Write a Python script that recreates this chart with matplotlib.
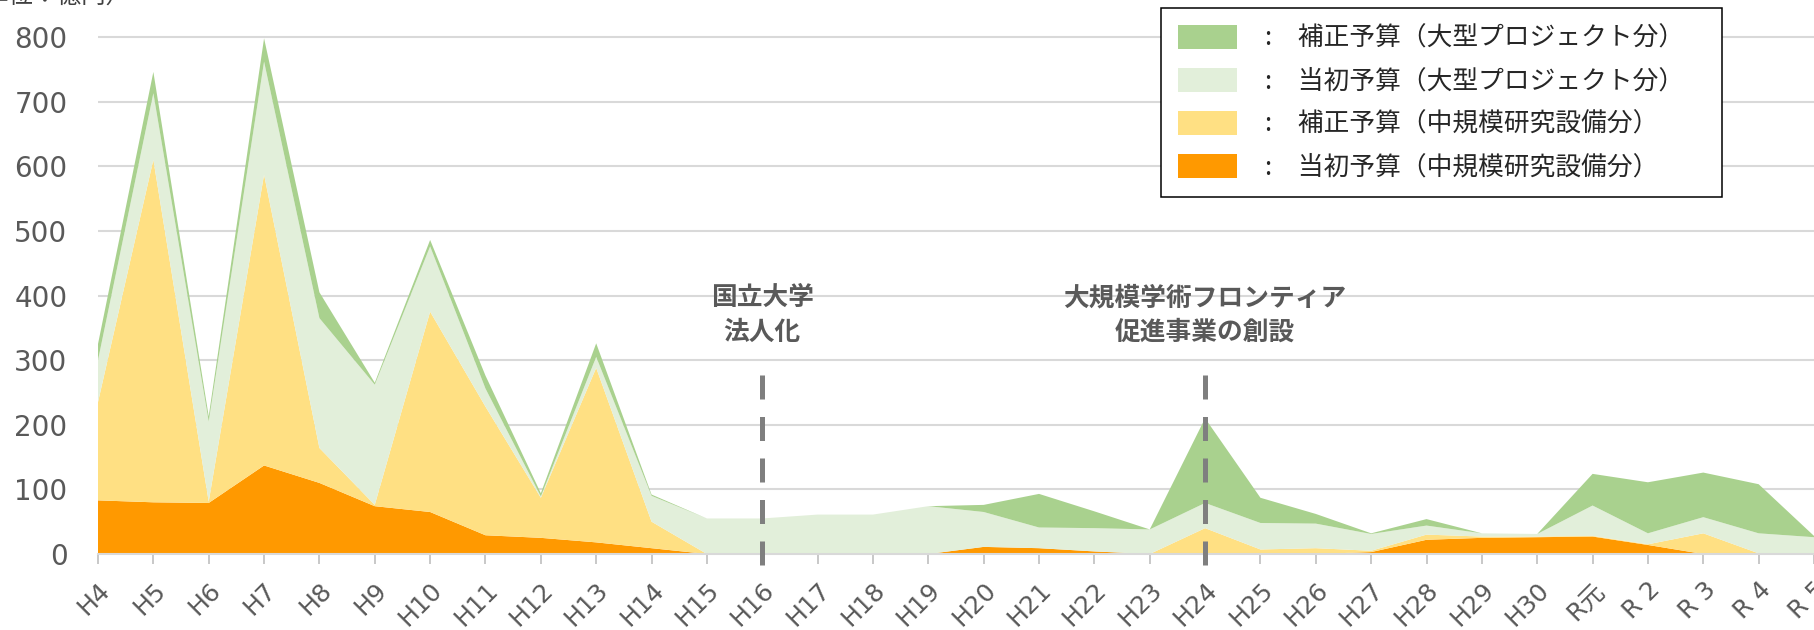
import numpy as np
import matplotlib
matplotlib.use('Agg')
import matplotlib.pyplot as plt
from matplotlib.patches import Patch
from matplotlib.font_manager import FontProperties

plt.rcParams['font.family'] = ['DejaVu Sans', 'Noto Sans CJK JP']

years = ['H4', 'H5', 'H6', 'H7', 'H8', 'H9', 'H10', 'H11', 'H12', 'H13', 'H14',
         'H15', 'H16', 'H17', 'H18', 'H19', 'H20', 'H21', 'H22', 'H23', 'H24',
         'H25', 'H26', 'H27', 'H28', 'H29', 'H30', 'R元', 'R 2', 'R 3', 'R 4', 'R 5']

# 億円
mid_initial = [83, 80, 79, 137, 110, 74, 65, 29, 25, 18, 9, 0, 0, 0, 0, 0,
               11, 9, 4, 0, 0, 0, 0, 3, 22, 25, 26, 27, 14, 0, 0, 0]
mid_supp = [152, 530, 2, 450, 54, 2, 310, 199, 62, 270, 41, 0, 0, 0, 0, 0,
            0, 0, 0, 0, 40, 7, 9, 2, 8, 2, 1, 1, 1, 32, 1, 0]
large_initial = [65, 103, 124, 175, 201, 186, 101, 28, 2, 17, 40, 55, 55, 61, 61, 74,
                 54, 32, 36, 38, 39, 41, 38, 26, 14, 5, 4, 47, 17, 25, 31, 26]
large_supp = [25, 33, 8, 36, 40, 3, 10, 20, 5, 21, 2, 0, 0, 0, 0, 0,
              11, 52, 26, 0, 131, 39, 15, 1, 10, 0, 0, 49, 79, 69, 76, 2]

labels = ['補正予算（大型プロジェクト分）', '当初予算（大型プロジェクト分）',
          '補正予算（中規模研究設備分）', '当初予算（中規模研究設備分）']
colors = ['#A9D18E', '#E2EFDA', '#FFE083', '#FF9900']

events = [('H16', '国立大学\n法人化'), ('H24', '大規模学術フロンティア\n促進事業の創設')]

fig = plt.figure(figsize=(18.14, 6.3), dpi=100)
ax = fig.add_axes([98 / 1814, 76 / 630, 1716 / 1814, 549.3 / 630])

x = np.arange(len(years))
ax.stackplot(x, mid_initial, mid_supp, large_initial, large_supp,
             colors=colors[::-1], linewidth=0)

ax.set_xlim(0, len(years) - 1)
ax.set_ylim(0, 850)
ax.set_yticks(range(0, 801, 100))
ax.grid(axis='y', color='#D9D9D9', linewidth=1.5)
ax.set_axisbelow(True)
for s in ['top', 'right', 'left']:
    ax.spines[s].set_visible(False)
ax.spines['bottom'].set_color('#D9D9D9')
ax.spines['bottom'].set_linewidth(1.5)

ax.set_xticks(x)
ax.set_xticklabels(years, rotation=45, ha='right', rotation_mode='anchor')
ax.tick_params(axis='x', colors='#BFBFBF', length=7, width=1.2, labelsize=18,
               labelcolor='#595959', pad=10)
ax.tick_params(axis='y', length=0, labelsize=20, labelcolor='#595959', pad=22)

cjk = ['Noto Sans CJK JP', 'DejaVu Sans']
for yr, txt in events:
    i = years.index(yr)
    ax.plot([i, i], [277, -20], color='#7F7F7F', lw=3.6, dashes=(4.8, 3.5),
            clip_on=False, zorder=5)
    ax.text(i, 370, txt, ha='center', va='center', fontsize=18.5,
            fontweight='bold', color='#595959', family=cjk, linespacing=1.35)

fig.text(-40 / 1814, 1 - 10 / 630, '（単位：億円）', fontsize=17.5, color='#404040',
         family=cjk, va='bottom')

handles = [Patch(facecolor=c, edgecolor='none') for c in colors]
leg = ax.legend(handles, [':\u3000' + l for l in labels], loc='upper left',
                bbox_to_anchor=(1161 / 1814, 1 - 202 / 630, 561 / 1814, 194 / 630),
                bbox_transform=fig.transFigure, mode='expand',
                borderaxespad=0, prop=FontProperties(family=cjk, size=18.5),
                handlelength=2.3, handleheight=1.1, handletextpad=1.1,
                labelspacing=0.62, borderpad=0.65, fancybox=False, framealpha=1,
                edgecolor='black')
leg.get_frame().set_linewidth(1.1)
for t in leg.get_texts():
    t.set_color('#262626')

fig.savefig('out.png', dpi=100)
